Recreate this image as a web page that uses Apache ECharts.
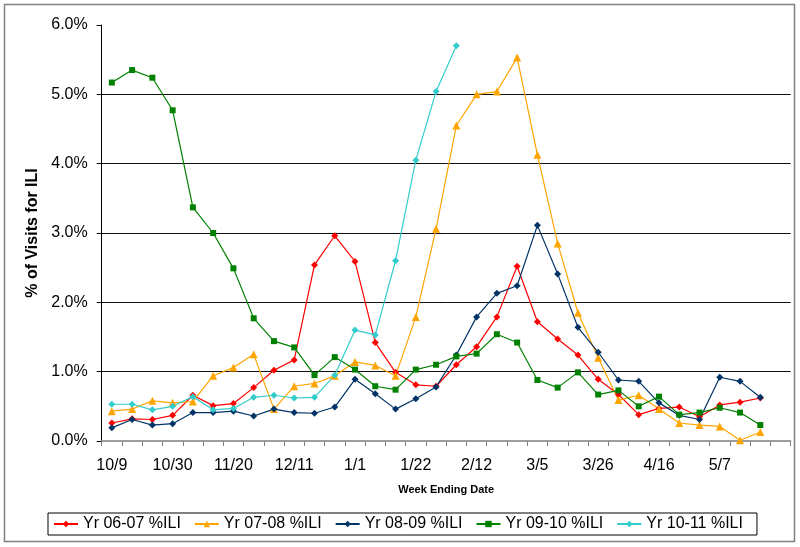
<!DOCTYPE html>
<html>
<head>
<meta charset="utf-8">
<script src="https://cdn.jsdelivr.net/npm/echarts@6/dist/echarts.min.js"></script>
<style>
html,body{margin:0;padding:0;background:#fff;}
#c{width:800px;height:547px;}
</style>
</head>
<body>
<div id="c"></div>
<script>
var categories = ['10/9','10/16','10/23','10/30','11/6','11/13','11/20','11/27','12/4','12/11','12/18','12/25','1/1','1/8','1/15','1/22','1/29','2/5','2/12','2/19','2/26','3/5','3/12','3/19','3/26','4/2','4/9','4/16','4/23','4/30','5/7','5/14','5/21','5/28'];
var yr0607 = [0.26,0.32,0.31,0.37,0.66,0.51,0.54,0.77,1.02,1.17,2.54,2.96,2.59,1.42,0.99,0.81,0.79,1.10,1.36,1.79,2.52,1.72,1.47,1.24,0.89,0.67,0.38,0.47,0.49,0.35,0.52,0.56,0.62];
var yr0708 = [0.43,0.46,0.58,0.55,0.57,0.94,1.06,1.25,0.46,0.79,0.83,0.94,1.14,1.09,0.94,1.79,3.06,4.55,5.00,5.04,5.53,4.13,2.85,1.85,1.20,0.59,0.66,0.46,0.26,0.23,0.21,0.01,0.13];
var yr0809 = [0.19,0.31,0.23,0.25,0.41,0.41,0.43,0.36,0.46,0.41,0.40,0.49,0.89,0.68,0.46,0.61,0.78,1.24,1.79,2.13,2.24,3.11,2.41,1.64,1.28,0.88,0.86,0.55,0.37,0.31,0.92,0.86,0.63];
var yr0910 = [5.17,5.35,5.24,4.77,3.37,3.00,2.49,1.77,1.44,1.35,0.95,1.21,1.03,0.79,0.74,1.03,1.10,1.22,1.26,1.54,1.42,0.88,0.77,0.99,0.67,0.73,0.50,0.64,0.38,0.41,0.48,0.41,0.23];
var yr1011 = [0.53,0.53,0.45,0.50,0.64,0.45,0.47,0.63,0.66,0.62,0.63,0.95,1.60,1.53,2.60,4.05,5.04,5.70];
var seriesNames = ['Yr 06-07 %ILI','Yr 07-08 %ILI','Yr 08-09 %ILI','Yr 09-10 %ILI','Yr 10-11 %ILI'];
var yTicks = [0,1,2,3,4,5,6];

var FONT = '"Liberation Sans", Arial, sans-serif';
function mk(name, data, color, symbol, size) {
  return {
    name: name, type: 'line', data: data,
    symbol: symbol, symbolSize: size, showAllSymbol: true,
    lineStyle: {color: color, width: 1.2},
    itemStyle: {color: color},
    animation: false
  };
}
var chart = echarts.init(document.getElementById('c'), null, {renderer: 'canvas'});
chart.setOption({
  animation: false,
  backgroundColor: '#fff',
  textStyle: {fontFamily: FONT, color: '#000'},
  graphic: [{
    type: 'rect', shape: {x: 4.5, y: 4.5, width: 790, height: 537},
    style: {fill: 'none', stroke: '#808080', lineWidth: 1.5}, silent: true
  }],
  grid: {left: 101.7, right: 9.3, top: 25, bottom: 106, containLabel: false},
  legend: {
    data: seriesNames,
    left: 48, top: 513,
    orient: 'horizontal',
    itemWidth: 24, itemHeight: 8, itemGap: 13,
    padding: [3, 14, 3, 5],
    borderColor: '#000', borderWidth: 1,
    textStyle: {fontFamily: FONT, fontSize: 16, color: '#000'}
  },
  xAxis: {
    type: 'category', data: categories, boundaryGap: true,
    name: 'Week Ending Date', nameLocation: 'middle', nameGap: 43,
    nameTextStyle: {fontFamily: FONT, fontSize: 11, fontWeight: 'bold', color: '#000'},
    axisLine: {lineStyle: {color: '#808080', width: 1.5}},
    axisTick: {show: true, interval: 0, length: 5, lineStyle: {color: '#808080'}},
    axisLabel: {
      interval: function (i) { return i % 3 === 0 && i <= 30; },
      margin: 17, fontFamily: FONT, fontSize: 16, color: '#000'
    },
    splitLine: {show: false}
  },
  yAxis: {
    type: 'value', min: yTicks[0], max: yTicks[yTicks.length - 1], interval: 1,
    name: '% of Visits for ILI', nameLocation: 'middle', nameGap: 61, nameRotate: 90,
    nameTextStyle: {fontFamily: FONT, fontSize: 16, fontWeight: 'bold', color: '#000'},
    axisLine: {show: true, lineStyle: {color: '#000', width: 1}},
    axisTick: {show: true, length: 5, lineStyle: {color: '#000'}},
    axisLabel: {
      margin: 14, fontFamily: FONT, fontSize: 16, color: '#000',
      formatter: function (v) { return v.toFixed(1) + '%'; }
    },
    splitLine: {show: true, showMinLine: false, showMaxLine: false, lineStyle: {color: '#111', width: 1}}
  },
  series: [
    mk(seriesNames[0], yr0607, '#FF0000', 'diamond', 7),
    mk(seriesNames[1], yr0708, '#FFA500', 'triangle', 8),
    mk(seriesNames[2], yr0809, '#003366', 'diamond', 7),
    mk(seriesNames[3], yr0910, '#008000', 'rect', 6),
    mk(seriesNames[4], yr1011, '#33CCCC', 'diamond', 7)
  ]
});
</script>
</body>
</html>
